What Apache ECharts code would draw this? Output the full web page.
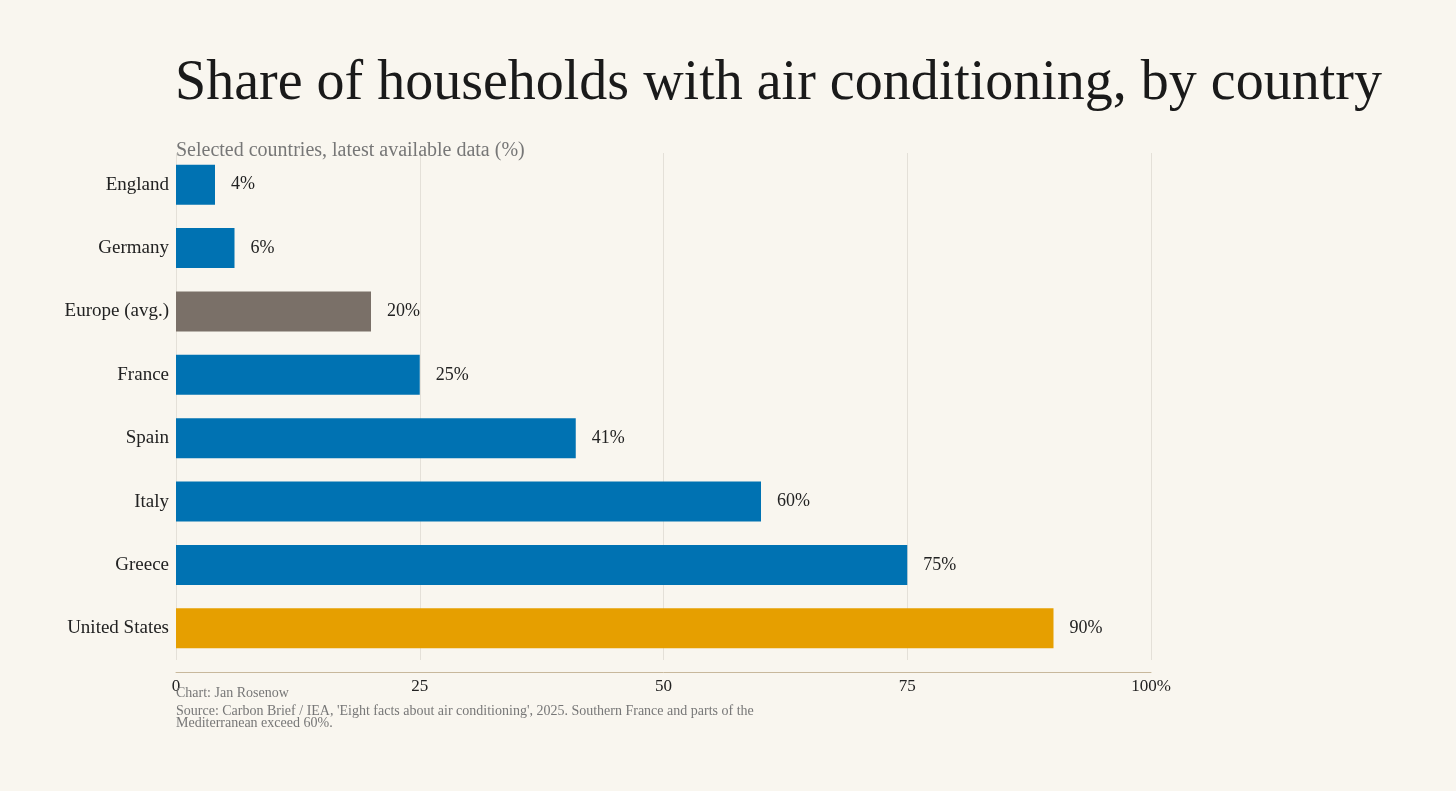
<!DOCTYPE html>
<html><head><meta charset="utf-8">
<script src="https://cdn.jsdelivr.net/npm/echarts@6/dist/echarts.min.js"></script>
<style>html,body{margin:0;background:#f9f6ef;}#c{width:1456px;height:791px;}</style>
</head><body><div id="c"></div>
<script>
const categories = ["England","Germany","Europe (avg.)","France","Spain","Italy","Greece","United States"];
const values = [4,6,20,25,41,60,75,90];
const barColors = ["#0072b2","#0072b2","#7a7068","#0072b2","#0072b2","#0072b2","#0072b2","#e69f00"];
const tickLabels = {0:"0",25:"25",50:"50",75:"75",100:"100%"};
const F = "'Liberation Serif', 'DejaVu Serif', serif";
const chart = echarts.init(document.getElementById('c'));
chart.setOption({
  backgroundColor:"#f9f6ef",
  textStyle:{fontFamily:F},
  title:[
    {text:"Share of households with air conditioning, by country",left:175,top:56,padding:0,textStyle:{fontFamily:F,fontSize:56,fontWeight:"normal",color:"#1a1a1a"}},
    {text:"Selected countries, latest available data (%)",left:176,top:141,padding:0,textStyle:{fontFamily:F,fontSize:20,fontWeight:"normal",color:"#777"}},
    {text:"Chart: Jan Rosenow",left:176,top:686,padding:0,textStyle:{fontFamily:F,fontSize:14,fontWeight:"normal",color:"#777"}},
    {text:"Source: Carbon Brief / IEA, 'Eight facts about air conditioning', 2025. Southern France and parts of the\nMediterranean exceed 60%.",left:176,top:705,padding:0,textStyle:{fontFamily:F,fontSize:14,fontWeight:"normal",color:"#777",lineHeight:12}}
  ],
  grid:{left:176,right:305,top:153,bottom:131},
  xAxis:{type:"value",min:0,max:100,interval:25,offset:12,
    axisLine:{show:true,lineStyle:{color:"#c8b89c"}},axisTick:{show:false},
    axisLabel:{fontFamily:F,fontSize:17,color:"#222",margin:6,formatter:v=>tickLabels[v]},
    splitLine:{lineStyle:{color:"#e4e0d8"}}},
  yAxis:{type:"category",data:categories,inverse:true,
    axisLine:{show:false},axisTick:{show:false},
    axisLabel:{fontFamily:F,fontSize:19,color:"#222",margin:7}},
  series:[{type:"bar",barWidth:40,
    data:values.map((v,i)=>({value:v,itemStyle:{color:barColors[i]}})),
    label:{show:true,position:"right",distance:16,formatter:"{c}%",fontFamily:F,fontSize:18,color:"#222"}}]
});
</script></body></html>
